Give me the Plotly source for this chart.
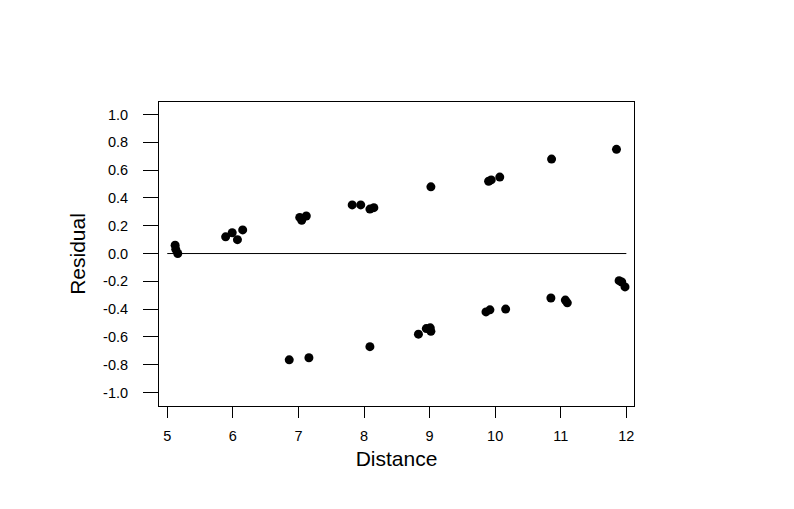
import plotly.graph_objects as go

distance = [5.12, 5.13, 5.16, 5.89, 5.99, 6.07, 6.15, 7.02, 7.05, 7.12, 7.82, 7.95, 8.09, 8.15,
            9.02, 9.90, 9.94, 10.07, 10.86, 11.85,
            6.86, 7.16, 8.09, 8.83, 8.95, 9.01, 9.02, 9.86, 9.92, 10.16, 10.85, 11.07, 11.10,
            11.89, 11.93, 11.98]
residual = [0.06, 0.03, 0.00, 0.12, 0.15, 0.10, 0.17, 0.26, 0.24, 0.27, 0.35, 0.35, 0.32, 0.33,
            0.48, 0.52, 0.53, 0.55, 0.68, 0.75,
            -0.765, -0.75, -0.67, -0.58, -0.54, -0.535, -0.56, -0.42, -0.405, -0.40, -0.32, -0.335, -0.355,
            -0.195, -0.205, -0.24]

ref_x = [5, 12]
ref_y = [0, 0]

x_ticks = [5, 6, 7, 8, 9, 10, 11, 12]
y_ticks = [1.0, 0.8, 0.6, 0.4, 0.2, 0.0, -0.2, -0.4, -0.6, -0.8, -1.0]
y_labels = ["1.0", "0.8", "0.6", "0.4", "0.2", "0.0", "-0.2", "-0.4", "-0.6", "-0.8", "-1.0"]

fig = go.Figure()
fig.add_trace(go.Scatter(x=ref_x, y=ref_y, mode="lines",
                         line=dict(color="black", width=1), hoverinfo="skip"))
fig.add_trace(go.Scatter(x=distance, y=residual, mode="markers",
                         marker=dict(color="black", size=9, line=dict(width=0))))

fig.update_layout(
    width=794, height=509,
    margin=dict(l=151, r=168, t=94, b=111),
    paper_bgcolor="white", plot_bgcolor="white",
    showlegend=False,
    font=dict(family="Liberation Sans, Arial, sans-serif", color="black", size=12),
)
fig.update_xaxes(
    range=[4.874, 12.117], tickvals=x_ticks, ticktext=[str(v) for v in x_ticks],
    showgrid=False, zeroline=False, showline=True, linecolor="black", linewidth=1, mirror=True,
    ticks="outside", ticklen=11, tickcolor="black", tickwidth=1,
    tickfont=dict(size=14.5), ticklabelstandoff=6,
    title=dict(text="Distance", font=dict(size=21), standoff=7),
)
fig.update_yaxes(
    range=[-1.0973, 1.0907], tickvals=y_ticks, ticktext=y_labels,
    showgrid=False, zeroline=False, showline=True, linecolor="black", linewidth=1, mirror=True,
    ticks="outside", ticklen=15, tickcolor="black", tickwidth=1,
    tickfont=dict(size=14.5), ticklabelstandoff=12,
    title=dict(text="Residual", font=dict(size=21), standoff=11),
)

fig.write_html("out.html")
